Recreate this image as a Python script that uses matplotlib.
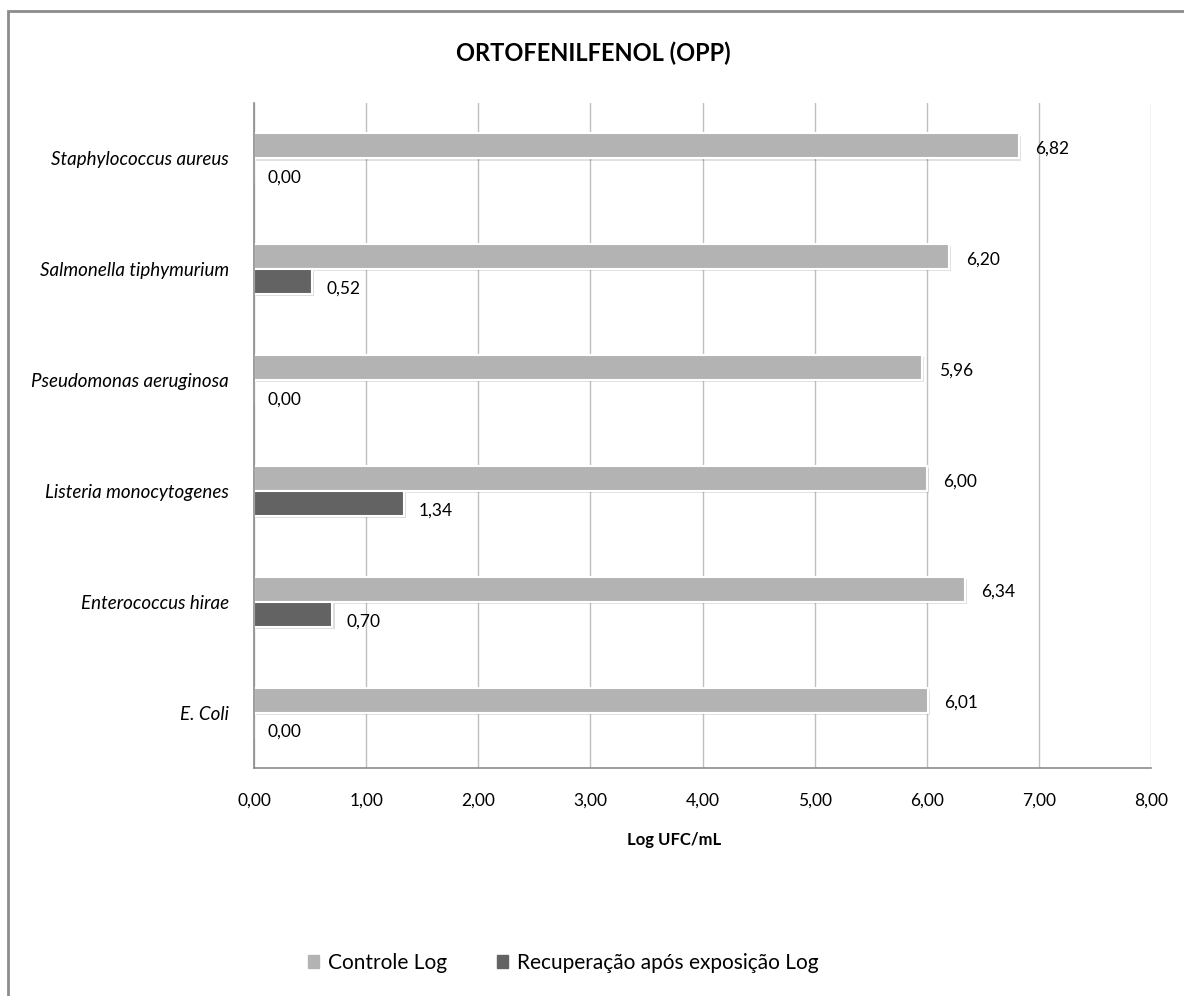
import matplotlib.pyplot as plt
import matplotlib.patheffects as pe
from matplotlib.patches import Rectangle, Patch
import numpy as np

plt.rcParams['font.family'] = ['Lato', 'DejaVu Sans']

# data
bacterias = ['E. Coli', 'Enterococcus hirae', 'Listeria monocytogenes',
             'Pseudomonas aeruginosa', 'Salmonella tiphymurium', 'Staphylococcus aureus']
controle = [6.01, 6.34, 6.00, 5.96, 6.20, 6.82]
recuperacao = [0.00, 0.70, 1.34, 0.00, 0.52, 0.00]
xticks = [0, 1, 2, 3, 4, 5, 6, 7, 8]

cor_controle = '#b3b3b3'
cor_recup = '#636363'

fig = plt.figure(figsize=(11.84, 9.96), dpi=100)
ax = fig.add_axes([254/1184, 1-768/996, (1151-254)/1184, (768-103)/996])

y = np.arange(len(bacterias))
h = 0.225
sombra = [pe.SimplePatchShadow(offset=(1.5, -1.5), alpha=0.15), pe.Normal()]

b1 = ax.barh(y + h/2, controle, height=h, color=cor_controle, edgecolor='white',
             linewidth=1.5, zorder=3)
b2 = ax.barh(y - h/2, recuperacao, height=h, color=cor_recup, edgecolor='white',
             linewidth=1.5, zorder=3)
for b in list(b1) + list(b2):
    b.set_path_effects(sombra)

def fmt(v):
    return f'{v:.2f}'.replace('.', ',')

for yi, v in zip(y, controle):
    ax.annotate(fmt(v), (v, yi + h/2), xytext=(12, -2), textcoords='offset points',
                ha='left', va='center', fontsize=12.5, zorder=4)
for yi, v in zip(y, recuperacao):
    ax.annotate(fmt(v), (v, yi - h/2), xytext=(10, -5), textcoords='offset points',
                ha='left', va='center', fontsize=12.5, zorder=4)

ax.set_xlim(0, 8)
ax.set_ylim(-0.5, len(bacterias) - 0.5)
ax.set_xticks(xticks)
ax.set_xticklabels([fmt(t) for t in xticks], fontsize=12.5)
ax.set_yticks(y)
ax.set_yticklabels(bacterias, fontsize=13.5, style='italic')
ax.tick_params(length=0, pad=18, axis='x')
ax.tick_params(length=0, pad=18, axis='y')
ax.grid(axis='x', color='#bfbfbf', linewidth=1, zorder=0)
ax.set_axisbelow(True)

for s in ['top', 'right']:
    ax.spines[s].set_visible(False)
for s in ['left', 'bottom']:
    ax.spines[s].set_color('#8c8c8c')
    ax.spines[s].set_linewidth(1.2)
    ax.spines[s].set_zorder(5)

ax.set_xlabel('Log UFC/mL', fontsize=12, fontweight='bold')
ax.xaxis.set_label_coords((674-254)/897, -(840-768)/665)
ax.xaxis.label.set_va('center')

fig.text(593/1184, 1-53/996, 'ORTOFENILFENOL (OPP)', ha='center', va='center',
         fontsize=17, fontweight='bold')

handles = [Patch(color=cor_controle, label='Controle Log'),
           Patch(color=cor_recup, label='Recuperação após exposição Log')]
fig.legend(handles=handles, loc='center', bbox_to_anchor=(563/1184, 1-963/996), ncol=2,
           frameon=False, fontsize=15, handlelength=0.55, handleheight=0.55,
           handletextpad=0.4, columnspacing=2.4)

# outer chart border
fig.patches.append(Rectangle((8/1184, -0.05), 1.1, 1-11/996+0.05, transform=fig.transFigure,
                             fill=False, edgecolor='#8c8c8c', linewidth=2))

fig.savefig('out.png', dpi=100)
